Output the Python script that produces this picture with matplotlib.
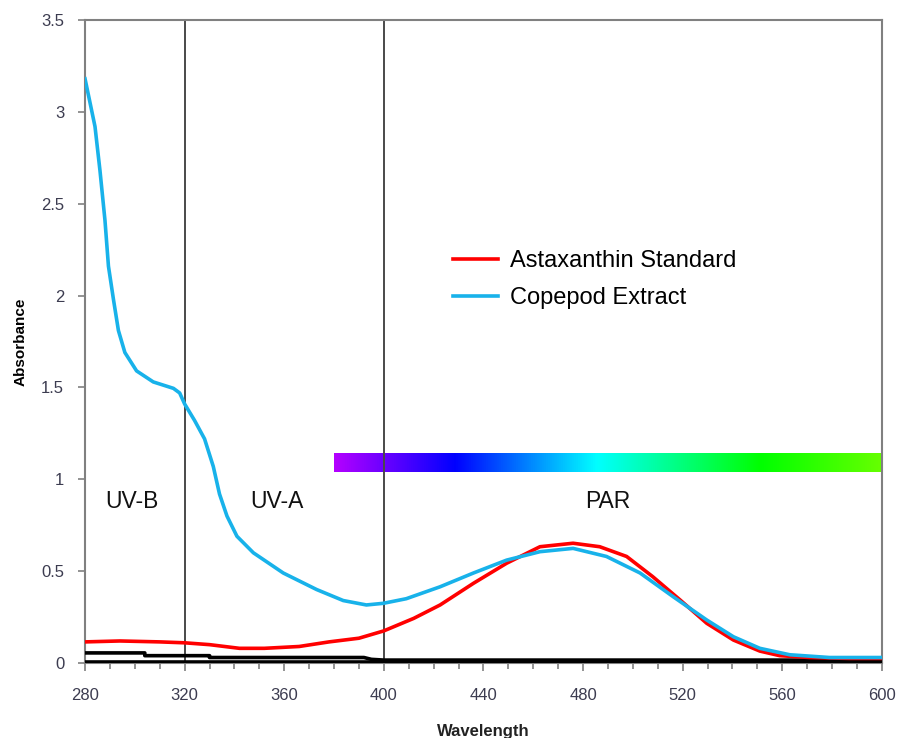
import numpy as np
import matplotlib
matplotlib.use('Agg')
import matplotlib.pyplot as plt
from matplotlib.colors import LinearSegmentedColormap

plt.rcParams['font.family'] = ['Liberation Sans', 'DejaVu Sans']

# 桡足类提取物吸收谱
wl_copepod = [280, 284, 286, 288, 289.4, 291.4, 293.4, 296, 300.7, 307.4, 315.5,
              318, 320, 324, 328, 331.5, 334, 337, 341, 347.6, 359.6, 373,
              383.7, 393, 399.8, 409, 422.6, 436, 449.3, 462.7, 476, 489.4,
              502.9, 516.3, 529.7, 540.4, 551, 563, 579, 600]
abs_copepod = [3.18, 2.92, 2.68, 2.41, 2.16, 1.98, 1.81, 1.69, 1.59, 1.53, 1.495,
               1.47, 1.41, 1.32, 1.22, 1.07, 0.92, 0.80, 0.69, 0.60, 0.49, 0.40,
               0.34, 0.316, 0.325, 0.35, 0.415, 0.49, 0.56, 0.606, 0.624, 0.58,
               0.49, 0.36, 0.234, 0.143, 0.08, 0.045, 0.03, 0.03]

# 虾青素标准
wl_astax = [280, 294, 310, 320, 330, 342, 352, 366, 378, 390, 400, 412, 422.6,
            436, 449.3, 462.7, 476, 486.7, 497.5, 508, 519, 529.7, 540.4, 551,
            559, 571, 587, 600]
abs_astax = [0.115, 0.12, 0.115, 0.11, 0.10, 0.08, 0.08, 0.09, 0.115, 0.135,
             0.175, 0.243, 0.316, 0.434, 0.543, 0.633, 0.652, 0.633, 0.58, 0.47,
             0.343, 0.216, 0.125, 0.065, 0.04, 0.03, 0.025, 0.025]

# 基线 (黑线)
wl_base1 = [280, 304, 304, 330, 330, 392, 395, 400, 600]
abs_base1 = [0.055, 0.055, 0.04, 0.04, 0.03, 0.03, 0.02, 0.016, 0.016]
wl_base2 = [280, 600]
abs_base2 = [0.006, 0.006]

# 区域分界和标签
boundaries = [320, 400]
region_labels = ['UV-B', 'UV-A', 'PAR']
region_x = [299, 357, 490]

# 光谱色条
spec_range = [380, 600]
spec_y = [1.04, 1.14]
spec_stops = [0.0, 0.22, 0.48, 0.78, 1.0]
spec_colors = ['#b400ff', '#0000ff', '#00ffff', '#00ff00', '#66ff00']

fig = plt.figure(figsize=(8.98, 7.38), dpi=100)
ax = fig.add_axes([0.0947, 0.1016, 0.8873, 0.8713])

cmap = LinearSegmentedColormap.from_list('spec', list(zip(spec_stops, spec_colors)))
grad = np.linspace(0, 1, 512).reshape(1, -1)
ax.imshow(grad, cmap=cmap, aspect='auto', extent=[spec_range[0], spec_range[1], spec_y[0], spec_y[1]],
          zorder=1, interpolation='bilinear')

for b in boundaries:
    ax.axvline(b, color='#4a4a4a', lw=1.4, zorder=2)

ax.plot(wl_base1, abs_base1, color='black', lw=2.6, zorder=3)
ax.plot(wl_base2, abs_base2, color='black', lw=2.6, zorder=3)
ax.plot(wl_astax, abs_astax, color='#ff0000', lw=2.6, zorder=4, label='Astaxanthin Standard')
ax.plot(wl_copepod, abs_copepod, color='#18b2ea', lw=2.6, zorder=5, label='Copepod Extract')

for lab, x in zip(region_labels, region_x):
    ax.text(x, 0.88, lab, fontsize=16.5, ha='center', va='center', color='#111111')

ax.set_xlim(280, 600)
ax.set_ylim(0, 3.5)
ax.set_xticks(np.arange(280, 601, 40))
ax.set_xticks(np.arange(280, 601, 10), minor=True)
ax.set_yticks(np.arange(0, 3.51, 0.5))
ax.set_yticklabels(['0', '0.5', '1', '1.5', '2', '2.5', '3', '3.5'])

tick_col = '#3c3c50'
ax.tick_params(axis='both', which='both', direction='out', color='#808080', labelcolor=tick_col,
               labelsize=12, width=1.2)
ax.tick_params(axis='x', which='major', length=6, pad=12)
ax.tick_params(axis='x', which='minor', length=4)
ax.tick_params(axis='y', which='major', length=5, pad=10)
for s in ax.spines.values():
    s.set_color('#808080')
    s.set_linewidth(1.5)

ax.set_xlabel('Wavelength', fontsize=12, fontweight='bold', color='#222222', labelpad=15)
ax.set_ylabel('Absorbance', fontsize=11, fontweight='bold', color='black', labelpad=10)

ax.legend(loc='center left', bbox_to_anchor=(0.4617, 0.596), frameon=False, fontsize=17,
          handlelength=1.9, handletextpad=0.5, labelspacing=0.62, borderpad=0, borderaxespad=0)

plt.savefig('out.png', dpi=100)
